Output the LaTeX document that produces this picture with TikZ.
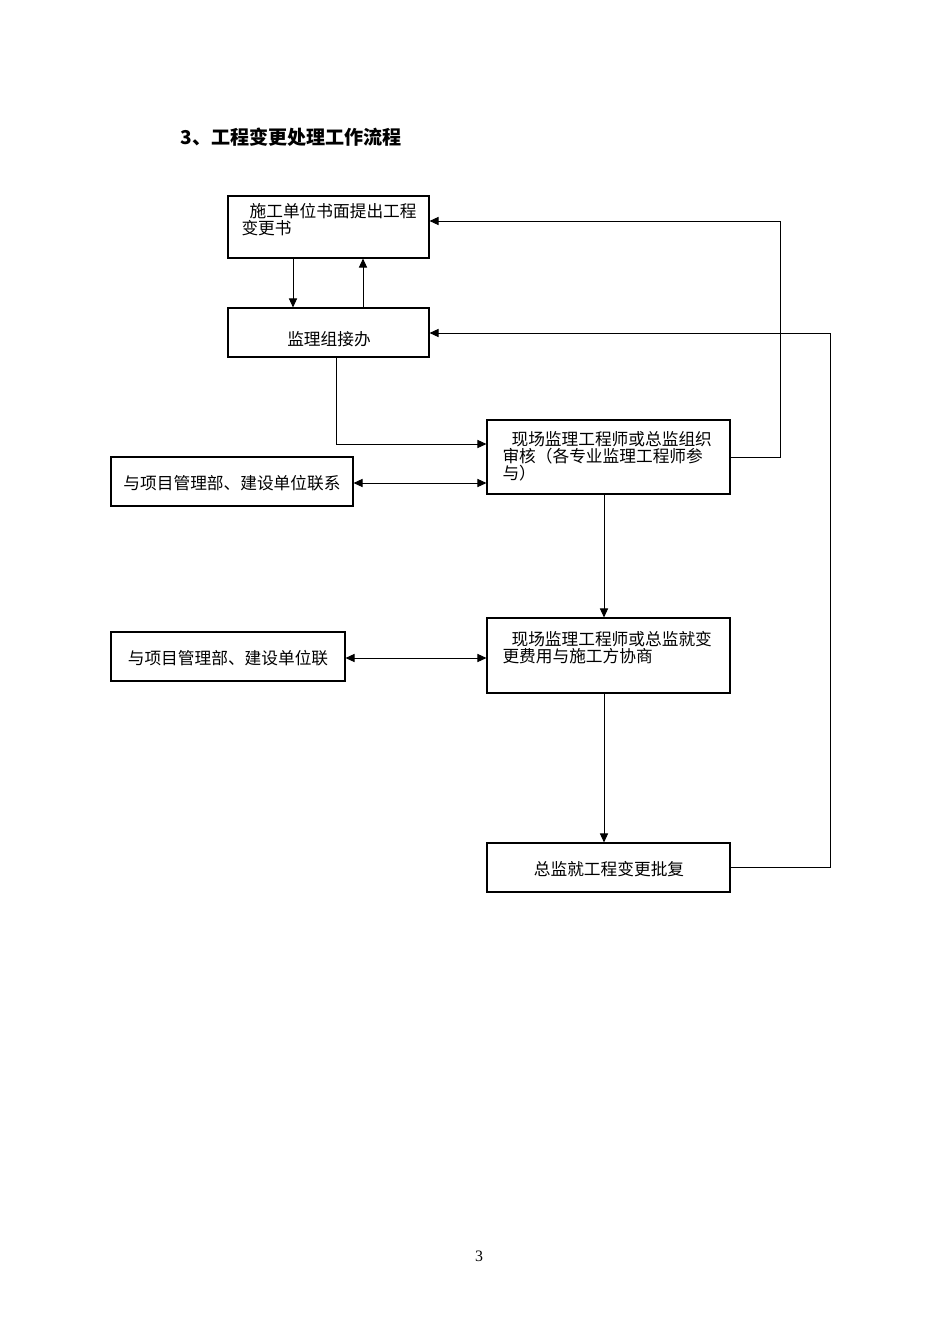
\documentclass[tikz,border=0pt]{standalone}
\usepackage{fontspec}
\setmainfont{Noto Sans CJK SC}
\newfontfamily\numfont{Liberation Serif}
\usetikzlibrary{arrows.meta,fit}
\begin{document}
\begin{tikzpicture}[x=0.221mm,y=-0.221mm,line width=0.22mm,
  box/.style={draw,line width=0.24mm,inner sep=0},
  txt/.style={inner sep=0,font=\fontsize{10.5pt}{10.6pt}\selectfont,align=left},
  arr/.style={-{Triangle[length=2mm,width=1.8mm]}},
  darr/.style={{Triangle[length=2mm,width=1.8mm]}-{Triangle[length=2mm,width=1.8mm]}}]
\useasboundingbox (0,0) rectangle (950,1344);
% title
\node[anchor=west,inner sep=0,font=\bfseries\fontsize{12pt}{14pt}\selectfont] (title) at (180,137) {3、工程变更处理工作流程};
% boxes
\node[box,fit={(228,196) (429,258)}] (b1) {};
\node[box,fit={(228,308) (429,357)}] (b2) {};
\node[box,fit={(487,420) (730,494)}] (b3) {};
\node[box,fit={(111,457) (353,506)}] (b4) {};
\node[box,fit={(487,618) (730,693)}] (b5) {};
\node[box,fit={(111,632) (345,681)}] (b6) {};
\node[box,fit={(487,843) (730,892)}] (b7) {};
% texts
\node[txt,anchor=north west] (t1) at (241,203) {\hspace{1.8mm}施工单位书面提出工程\\变更书};
\node[txt] (t2) at (329,339) {监理组接办};
\node[txt,anchor=north west] (t3) at (502,431) {\hspace{2mm}现场监理工程师或总监组织\\审核（各专业监理工程师参\\与）};
\node[txt] (t4) at (232,483) {与项目管理部、建设单位联系};
\node[txt,anchor=north west] (t5) at (502,631) {\hspace{2mm}现场监理工程师或总监就变\\更费用与施工方协商};
\node[txt] (t6) at (228,658) {与项目管理部、建设单位联};
\node[txt] (t7) at (609,869) {总监就工程变更批复};
\node[inner sep=0,font=\numfont\fontsize{10pt}{12pt}\selectfont] (pg) at (479,1256) {3};
% helper coordinates
\coordinate (xa) at (293,0);
\coordinate (xb) at (363,0);
\coordinate (xc) at (336,0);
\coordinate (xd) at (604,0);
\coordinate (y444) at (0,444);
\coordinate (y483) at (0,483);
\coordinate (y457) at (0,457);
\coordinate (y658) at (0,658);
\coordinate (y867) at (0,867);
\coordinate (tr1) at (780,221);
\coordinate (tr2) at (830,333);
% connectors
\draw[arr] (b1.south -| xa) -- (b2.north -| xa);
\draw[arr] (b2.north -| xb) -- (b1.south -| xb);
\draw[arr] (b2.south -| xc) |- (b3.west |- y444);
\draw[darr] (b4.east |- y483) -- (b3.west |- y483);
\draw[arr] (b3.east |- y457) -| (tr1) -- (b1.east |- tr1);
\draw[arr] (b3.south -| xd) -- (b5.north -| xd);
\draw[darr] (b6.east |- y658) -- (b5.west |- y658);
\draw[arr] (b5.south -| xd) -- (b7.north -| xd);
\draw[arr] (b7.east |- y867) -| (tr2) -- (b2.east |- tr2);
\end{tikzpicture}
\end{document}
